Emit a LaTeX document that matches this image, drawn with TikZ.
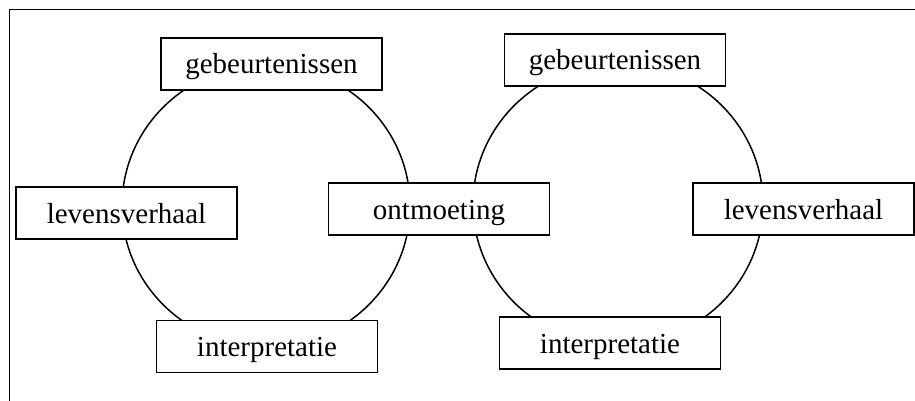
\documentclass[tikz,border=0pt]{standalone}
\usepackage{fontspec}
\setmainfont{Liberation Serif}
\begin{document}
\begin{tikzpicture}[x=1pt,y=-1pt,
  lbl/.style={draw=black,line width=1.7pt,fill=white,minimum width=221pt,minimum height=52pt,inner sep=0pt,text height=26pt,text depth=6pt,font=\fontsize{29}{34}\selectfont},
  ring/.style={draw=black,line width=1.5pt},
  frame/.style={draw=black,line width=1.6pt}]
\useasboundingbox (0,0) rectangle (915,401);
\draw[frame] (9.5,401) -- (9.5,9.5) -- (915,9.5);
\draw[ring] (266,206) ellipse [x radius=144, y radius=141];
\draw[ring] (618,204) ellipse [x radius=145, y radius=141];
\node[lbl] (g1) at (271.5,64) {gebeurtenissen};
\node[lbl] (g2) at (615,60) {gebeurtenissen};
\node[lbl] (lv1) at (126.5,213) {levensverhaal};
\node[lbl] (lv2) at (803.5,209) {levensverhaal};
\node[lbl] (ont) at (439,209) {ontmoeting};
\node[lbl] (i1) at (267,346.5) {interpretatie};
\node[lbl] (i2) at (610,343) {interpretatie};
\end{tikzpicture}
\end{document}
